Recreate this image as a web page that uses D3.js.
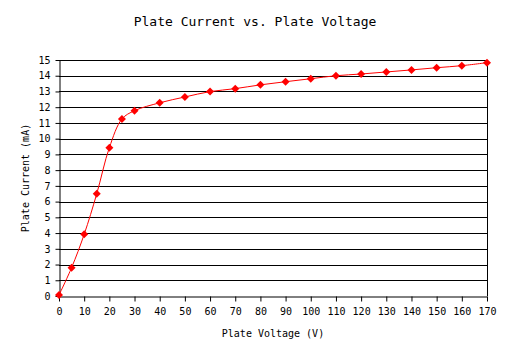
<!DOCTYPE html>
<html><head><meta charset="utf-8">
<script src="https://cdn.jsdelivr.net/npm/d3@7"></script>
<style>body{margin:0;background:#fff}</style>
</head><body>
<svg id="c" width="520" height="360"></svg>
<script>
const voltages = [0,5,10,15,20,25,30,40,50,60,70,80,90,100,110,120,130,140,150,160,170];
const currents = [0.06,1.8,3.92,6.5,9.43,11.25,11.78,12.28,12.65,12.99,13.18,13.42,13.62,13.81,14.0,14.11,14.24,14.37,14.51,14.64,14.83];
const xTicks = d3.range(0,171,10);
const yTicks = d3.range(0,16,1);
const title = "Plate Current vs. Plate Voltage";
const xTitle = "Plate Voltage (V)";
const yTitle = "Plate Current (mA)";

const svg = d3.select("#c");
const font = "'DejaVu Sans Mono', monospace";
const L=59, R=487, T=60, B=296;
const x = d3.scaleLinear().domain([0,170]).range([L,R]);
const y = d3.scaleLinear().domain([0,15]).range([B,T]);

svg.append("rect").attr("width",520).attr("height",360).attr("fill","#fff");

// gridlines
svg.append("g").selectAll("line").data(yTicks.filter(d=>d>0)).join("line")
  .attr("x1",L).attr("x2",R).attr("y1",d=>Math.round(y(d))+0.5).attr("y2",d=>Math.round(y(d))+0.5)
  .attr("stroke","#000").attr("stroke-width",1);
// right border
svg.append("line").attr("x1",R+0.5).attr("x2",R+0.5).attr("y1",T).attr("y2",B).attr("stroke","#000");

const xAxis = svg.append("g").attr("transform",`translate(0,${B+0.5})`)
  .call(d3.axisBottom(x).tickValues(xTicks).tickSize(5).tickSizeOuter(0).tickPadding(6));
const yAxis = svg.append("g").attr("transform",`translate(${L+0.5},0)`)
  .call(d3.axisLeft(y).tickValues(yTicks).tickSize(4).tickSizeOuter(0).tickPadding(5));
[xAxis,yAxis].forEach(a=>{
  a.selectAll("text").attr("font-family",font).attr("font-size",10).attr("fill","#000");
  a.selectAll("line,path").attr("stroke","#000");
});

const line = d3.line().x((d,i)=>x(voltages[i])).y(d=>y(d)).curve(d3.curveCatmullRom.alpha(0.5));
svg.append("path").datum(currents).attr("d",line).attr("fill","none").attr("stroke","#ff0000").attr("stroke-width",1);

svg.append("g").selectAll("path").data(currents).join("path")
  .attr("transform",(d,i)=>`translate(${x(voltages[i])},${y(d)})`)
  .attr("d","M0,-4L4,0L0,4L-4,0Z").attr("fill","#ff0000");

svg.append("text").attr("x",255).attr("y",26).attr("text-anchor","middle")
  .attr("font-family",font).attr("font-size",13).text(title);
svg.append("text").attr("x",273).attr("y",337).attr("text-anchor","middle")
  .attr("font-family",font).attr("font-size",10).text(xTitle);
svg.append("text").attr("transform","translate(29,178) rotate(-90)").attr("text-anchor","middle")
  .attr("font-family",font).attr("font-size",10).text(yTitle);
</script>
</body></html>
